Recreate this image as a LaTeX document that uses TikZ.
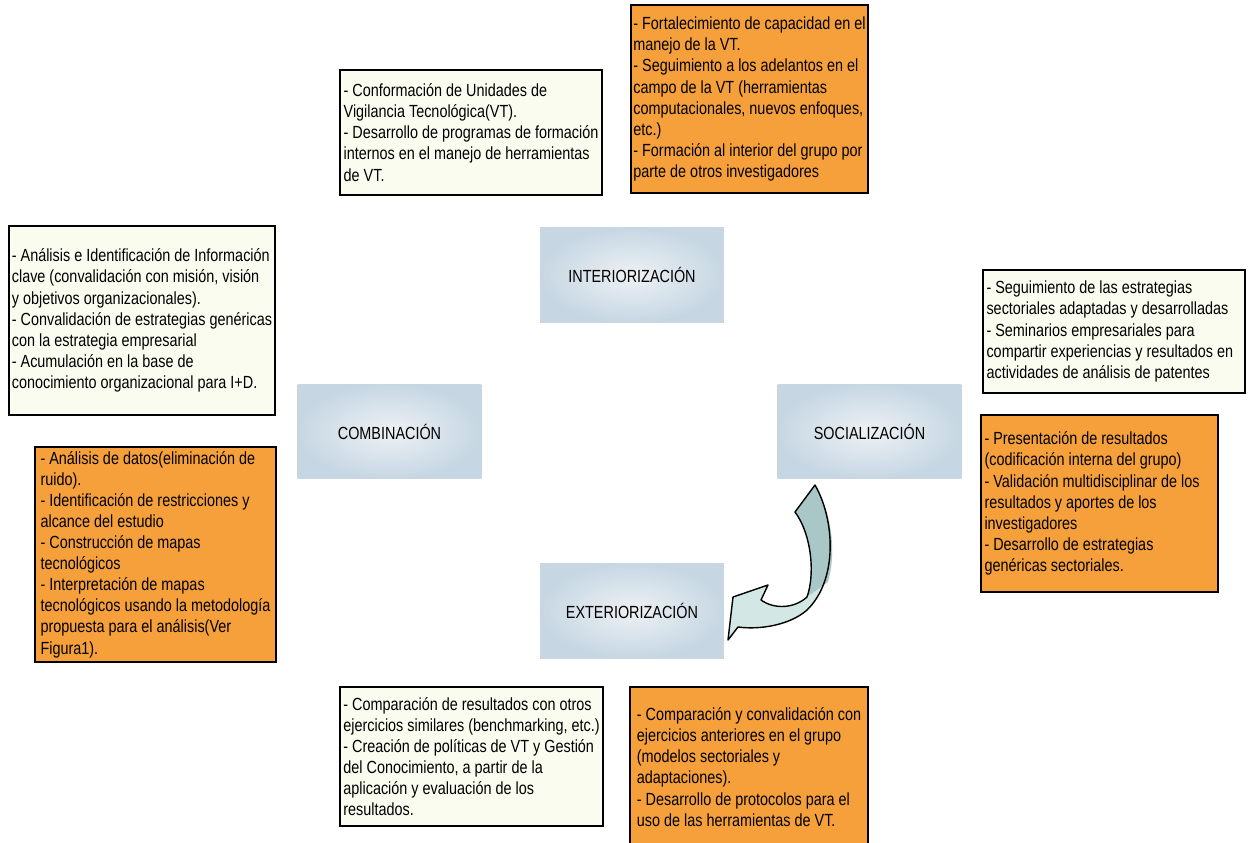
\documentclass[tikz,border=0pt]{standalone}
\usepackage{fontspec}
\setmainfont{Liberation Sans}[FakeStretch=0.82]
\usepackage{xcolor}
\definecolor{NoteFill}{HTML}{FBFCF0}
\definecolor{TaskFill}{HTML}{F6A03B}
\definecolor{StageIn}{HTML}{EEF1F4}
\definecolor{StageOut}{HTML}{C6D7E3}
\definecolor{TurnDark}{HTML}{A9C7C7}
\definecolor{TurnLight}{HTML}{D3E7E5}
\usepackage{tikz}

\begin{document}
\begin{tikzpicture}[
  x=0.02cm, y=-0.02cm,
  font=\fontsize{10}{12}\selectfont,
  note/.style={
    rectangle, draw=black, line width=0.9pt, fill=NoteFill,
    align=flush left, inner xsep=1.5pt, inner ysep=0pt
  },
  task/.style={
    note, fill=TaskFill
  },
  stage/.style={
    rectangle, shading=radial, inner color=StageIn, outer color=StageOut,
    minimum width=3.68cm, minimum height=1.90cm, align=center
  },
  turn/.style={draw=black, line width=0.8pt, line join=round},
]
\useasboundingbox (0,0) rectangle (1250,842);

% stages
\node[stage] (int) at (632,275)   {INTERIORIZACIÓN};
\node[stage] (com) at (389.5,431.5) {COMBINACIÓN};
\node[stage] (soc) at (869.5,431.5) {SOCIALIZACIÓN};
\node[stage] (ext) at (632,610.5) {EXTERIORIZACIÓN};

% notes
\node[note, minimum width=5.24cm, minimum height=2.50cm] (n1) at (471,132.5)
  {- Conformación de Unidades de\\
   Vigilancia Tecnológica(VT).\\
   - Desarrollo de programas de formación\\
   internos en el manejo de herramientas\\
   de VT.};
\node[task, minimum width=4.74cm, minimum height=3.76cm] (o1) at (749.5,99)
  {- Fortalecimiento de capacidad en el\\
   manejo de la VT.\\
   - Seguimiento a los adelantos en el\\
   campo de la VT (herramientas\\
   computacionales, nuevos enfoques,\\
   etc.)\\
   - Formación al interior del grupo por\\
   parte de otros investigadores};
\node[note, minimum width=5.32cm, minimum height=3.78cm] (n2) at (142,320.5)
  {- Análisis e Identificación de Información\\
   clave (convalidación con misión, visión\\
   y objetivos organizacionales).\\
   - Convalidación de estrategias genéricas\\
   con la estrategia empresarial\\
   - Acumulación en la base de\\
   conocimiento organizacional para I+D.};
\node[note, minimum width=5.24cm, minimum height=2.46cm, text width=5.1cm] (n3) at (1114,331.5)
  {- Seguimiento de las estrategias\\
   sectoriales adaptadas y desarrolladas\\
   - Seminarios empresariales para\\
   compartir experiencias y resultados en\\
   actividades de análisis de patentes};
\node[task, minimum width=4.74cm, minimum height=3.54cm, text width=4.6cm] (o2) at (1099.5,503.5)
  {- Presentación de resultados\\
   (codificación interna del grupo)\\
   - Validación multidisciplinar de los\\
   resultados y aportes de los\\
   investigadores\\
   - Desarrollo de estrategias\\
   genéricas sectoriales.};
\node[task, minimum width=4.82cm, minimum height=4.30cm] (o3) at (155.5,554.5)
  {- Análisis de datos(eliminación de\\
   ruido).\\
   - Identificación de restricciones y\\
   alcance del estudio\\
   - Construcción de mapas\\
   tecnológicos\\
   - Interpretación de mapas\\
   tecnológicos usando la metodología\\
   propuesta para el análisis(Ver\\
   Figura1).};
\node[note, minimum width=5.26cm, minimum height=2.78cm] (n4) at (471.5,756.5)
  {- Comparación de resultados con otros\\
   ejercicios similares (benchmarking, etc.)\\
   - Creación de políticas de VT y Gestión\\
   del Conocimiento, a partir de la\\
   aplicación y evaluación de los\\
   resultados.};
\node[task, minimum width=4.76cm, minimum height=3.20cm] (o4) at (749,767)
  {- Comparación y convalidación con\\
   ejercicios anteriores en el grupo\\
   (modelos sectoriales y\\
   adaptaciones).\\
   - Desarrollo de protocolos para el\\
   uso de las herramientas de VT.};

% curved block arrow from socializacion to exteriorizacion
\fill[TurnLight] (815,485) .. controls (835,520) and (838,580) .. (807,610)
  .. controls (790,625) and (760,630) .. (738,627) -- (728,640) -- (733,597)
  -- (768,585) -- (761,600) .. controls (775,610) and (795,608) .. (807,597)
  .. controls (815,575) and (812,535) .. (795,512) -- cycle;
\fill[TurnDark] (815,485) .. controls (833,515) and (836,555) .. (828,582)
  -- (807,597) .. controls (815,575) and (812,535) .. (795,512) -- cycle;
\draw[turn] (815,485) .. controls (835,520) and (838,580) .. (807,610)
  .. controls (790,625) and (760,630) .. (738,627) -- (728,640) -- (733,597)
  -- (768,585) -- (761,600) .. controls (775,610) and (795,608) .. (807,597)
  .. controls (815,575) and (812,535) .. (795,512) -- cycle;

\end{tikzpicture}
\end{document}
